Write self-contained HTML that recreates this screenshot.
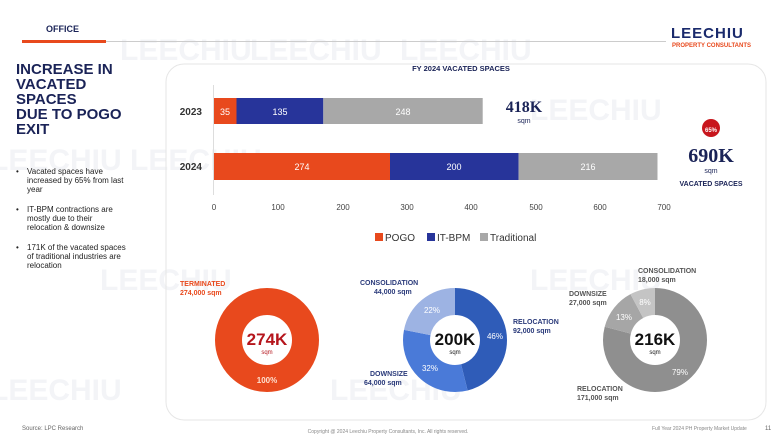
<!DOCTYPE html>
<html><head><meta charset="utf-8"><style>
body{margin:0;width:775px;height:436px;background:#fff;overflow:hidden;font-family:"Liberation Sans",sans-serif}
</style></head><body>
<svg width="775" height="436" viewBox="0 0 775 436" xmlns="http://www.w3.org/2000/svg" font-family="Liberation Sans, sans-serif">
<rect width="775" height="436" fill="#fff"/>
<g fill="#f3f4f7" font-weight="bold" font-size="30">
<text x="120" y="60">LEECHIU</text><text x="250" y="60">LEECHIU</text><text x="400" y="60">LEECHIU</text>
<text x="-10" y="170">LEECHIU</text><text x="130" y="170">LEECHIU</text><text x="530" y="120">LEECHIU</text>
<text x="100" y="290">LEECHIU</text><text x="530" y="290">LEECHIU</text><text x="-10" y="400">LEECHIU</text><text x="330" y="400">LEECHIU</text>
</g>
<text x="46" y="32" font-size="9" font-weight="bold" fill="#1a2357">OFFICE</text>
<rect x="22" y="40" width="84" height="3" fill="#e8491d"/>
<rect x="106" y="41" width="560" height="1" fill="#ccc"/>
<text x="671" y="38" font-size="15" font-weight="bold" fill="#1a2a6c" letter-spacing="1">LEECHIU</text>
<text x="672" y="47" font-size="6" font-weight="bold" fill="#e8491d">PROPERTY CONSULTANTS</text>
<g font-size="15" font-weight="bold" fill="#1a2357">
<text x="16" y="74">INCREASE IN</text><text x="16" y="89">VACATED</text><text x="16" y="104">SPACES</text><text x="16" y="119">DUE TO POGO</text><text x="16" y="134">EXIT</text></g>
<g font-size="8" fill="#222">
<text x="16" y="174">•</text><text x="27" y="174">Vacated spaces have</text><text x="27" y="183">increased by 65% from last</text><text x="27" y="192">year</text>
<text x="16" y="212">•</text><text x="27" y="212">IT-BPM contractions are</text><text x="27" y="221">mostly due to their</text><text x="27" y="230">relocation &amp; downsize</text>
<text x="16" y="250">•</text><text x="27" y="250">171K of the vacated spaces</text><text x="27" y="259">of traditional industries are</text><text x="27" y="268">relocation</text></g>
<rect x="166" y="64" width="600" height="356" rx="18" fill="none" stroke="#e6e6e6"/>
<text x="461" y="71" font-size="7.5" font-weight="bold" fill="#1a2357" text-anchor="middle">FY 2024 VACATED SPACES</text>
<line x1="213.5" y1="85" x2="213.5" y2="195" stroke="#ddd"/>
<text x="202" y="115" font-size="10" font-weight="bold" fill="#333" text-anchor="end">2023</text>
<text x="202" y="170" font-size="10" font-weight="bold" fill="#333" text-anchor="end">2024</text>
<rect x="214" y="98" width="22.5" height="26" fill="#e8491d"/>
<rect x="236.5" y="98" width="86.8" height="26" fill="#27349a"/>
<rect x="323.3" y="98" width="159.4" height="26" fill="#a8a8a8"/>
<rect x="214" y="153" width="176" height="27" fill="#e8491d"/>
<rect x="390" y="153" width="128.6" height="27" fill="#27349a"/>
<rect x="518.6" y="153" width="138.9" height="27" fill="#a8a8a8"/>
<g font-size="9" fill="#fff" text-anchor="middle">
<text x="225" y="115">35</text><text x="280" y="115">135</text><text x="403" y="115">248</text>
<text x="302" y="170">274</text><text x="454" y="170">200</text><text x="588" y="170">216</text></g>
<g font-size="8" fill="#444" text-anchor="middle">
<text x="214" y="210">0</text><text x="278" y="210">100</text><text x="343" y="210">200</text><text x="407" y="210">300</text><text x="471" y="210">400</text><text x="536" y="210">500</text><text x="600" y="210">600</text><text x="664" y="210">700</text></g>
<text x="524" y="112" font-size="16" font-weight="bold" fill="#1a2357" text-anchor="middle" font-family="Liberation Serif, serif">418K</text>
<text x="524" y="123" font-size="7" fill="#1a2357" text-anchor="middle">sqm</text>
<circle cx="711" cy="128" r="9" fill="#c8161d"/>
<text x="711" y="132" font-size="6" font-weight="bold" fill="#fff" text-anchor="middle">65%</text>
<text x="711" y="162" font-size="20" font-weight="bold" fill="#1a2357" text-anchor="middle" font-family="Liberation Serif, serif">690K</text>
<text x="711" y="173" font-size="7" fill="#1a2357" text-anchor="middle">sqm</text>
<text x="711" y="186" font-size="7" font-weight="bold" fill="#1a2357" text-anchor="middle">VACATED SPACES</text>
<g font-size="10" fill="#333">
<rect x="375" y="233" width="8" height="8" fill="#e8491d"/><text x="385" y="241">POGO</text>
<rect x="427" y="233" width="8" height="8" fill="#27349a"/><text x="437" y="241">IT-BPM</text>
<rect x="480" y="233" width="8" height="8" fill="#a8a8a8"/><text x="490" y="241">Traditional</text></g>
<circle cx="267" cy="340" r="38.5" fill="none" stroke="#e8491d" stroke-width="27"/>
<text x="267" y="345" font-size="17" font-weight="bold" fill="#b5151c" text-anchor="middle">274K</text>
<text x="267" y="354" font-size="6" fill="#b5151c" text-anchor="middle">sqm</text>
<text x="267" y="383" font-size="8" font-weight="bold" fill="#fde0d0" text-anchor="middle">100%</text>
<text x="180" y="286" font-size="7" font-weight="bold" fill="#e8491d">TERMINATED</text>
<text x="180" y="295" font-size="7" font-weight="bold" fill="#e8491d">274,000 sqm</text>
<g transform="rotate(-90 455 340)" fill="none" stroke-width="27">
<circle cx="455" cy="340" r="38.5" stroke="#2f5cb8" stroke-dasharray="111.3 130.6"/>
<circle cx="455" cy="340" r="38.5" stroke="#4a7ad8" stroke-dasharray="0 111.3 77.4 53.2"/>
<circle cx="455" cy="340" r="38.5" stroke="#9db3e3" stroke-dasharray="0 188.7 53.2 0"/>
</g>
<text x="455" y="345" font-size="17" font-weight="bold" fill="#111" text-anchor="middle">200K</text>
<text x="455" y="354" font-size="6" fill="#111" text-anchor="middle">sqm</text>
<g font-size="8" fill="#fff" text-anchor="middle"><text x="495" y="339">46%</text><text x="430" y="371">32%</text><text x="432" y="313">22%</text></g>
<g font-size="7" font-weight="bold" fill="#2a3a7a">
<text x="360" y="285">CONSOLIDATION</text><text x="374" y="294">44,000 sqm</text>
<text x="513" y="324">RELOCATION</text><text x="513" y="333">92,000 sqm</text>
<text x="370" y="376">DOWNSIZE</text><text x="364" y="385">64,000 sqm</text></g>
<g transform="rotate(-90 655 340)" fill="none" stroke-width="27">
<circle cx="655" cy="340" r="38.5" stroke="#8f8f8f" stroke-dasharray="191.1 50.8"/>
<circle cx="655" cy="340" r="38.5" stroke="#a6a6a6" stroke-dasharray="0 191.1 31.5 19.3"/>
<circle cx="655" cy="340" r="38.5" stroke="#c4c4c4" stroke-dasharray="0 222.6 19.3 0"/>
</g>
<text x="655" y="345" font-size="17" font-weight="bold" fill="#111" text-anchor="middle">216K</text>
<text x="655" y="354" font-size="6" fill="#111" text-anchor="middle">sqm</text>
<g font-size="8" fill="#fff" text-anchor="middle"><text x="680" y="375">79%</text><text x="624" y="320">13%</text><text x="645" y="305">8%</text></g>
<g font-size="7" font-weight="bold" fill="#555">
<text x="638" y="273">CONSOLIDATION</text><text x="638" y="282">18,000 sqm</text>
<text x="569" y="296">DOWNSIZE</text><text x="569" y="305">27,000 sqm</text>
<text x="577" y="391">RELOCATION</text><text x="577" y="400">171,000 sqm</text></g>
<text x="22" y="430" font-size="6" fill="#666">Source: LPC Research</text>
<text x="388" y="433" font-size="5" fill="#888" text-anchor="middle">Copyright @ 2024 Leechiu Property Consultants, Inc. All rights reserved.</text>
<text x="652" y="430" font-size="5" fill="#888">Full Year 2024 PH Property Market Update</text>
<text x="765" y="430" font-size="6" fill="#666">11</text>
</svg>
</body></html>
